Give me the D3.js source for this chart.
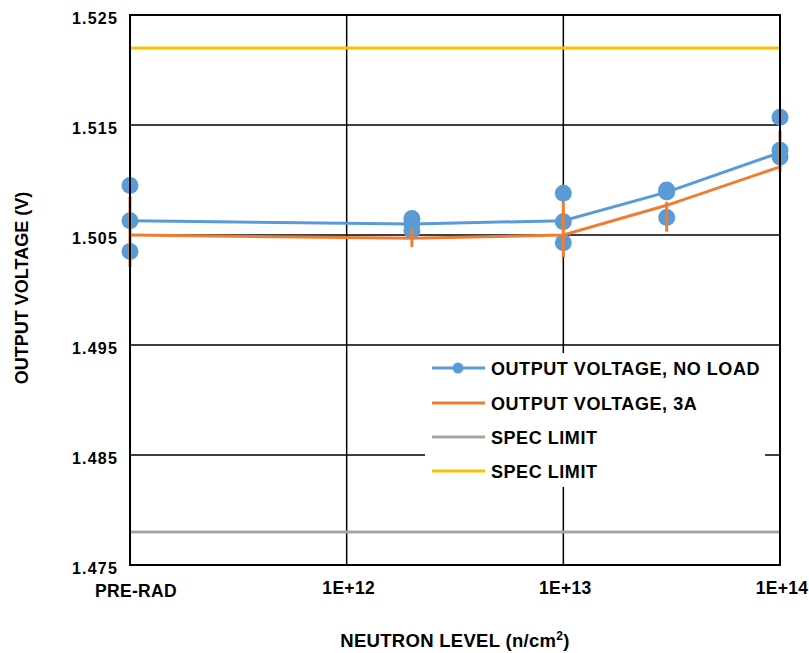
<!DOCTYPE html>
<html>
<head>
<meta charset="utf-8">
<script src="https://cdn.jsdelivr.net/npm/d3@7"></script>
<style>
  html, body { margin: 0; padding: 0; background: #fff; }
  svg text { font-family: "Liberation Sans", Arial, sans-serif; font-weight: bold; fill: #000; }
</style>
</head>
<body>
<svg id="chart" width="809" height="653"></svg>
<script>
// ---- data ----
const levels = [1e11, 2e12, 1e13, 3e13, 1e14];          // PRE-RAD plotted at 1E+11
const noLoadAvg = [1.5063, 1.5060, 1.5063, 1.5089, 1.5125];
const noLoadUnits = [
  [1.5095, 1.5063, 1.5035],
  [1.5065, 1.5060, 1.5054],
  [1.5088, 1.5062, 1.5043],
  [1.5091, 1.5089, 1.5066],
  [1.5157, 1.5127, 1.5121]
];
const load3AAvg = [1.5050, 1.5047, 1.5050, 1.5077, 1.5112];
const load3AMin = [1.5021, 1.5039, 1.5030, 1.5053, 1.5107];
const load3AMax = [1.5085, 1.5055, 1.5080, 1.5080, 1.5145];
const specLow = 1.478;
const specHigh = 1.522;
const xTickValues = [1e11, 1e12, 1e13, 1e14];
const xTickLabels = ["PRE-RAD", "1E+12", "1E+13", "1E+14"];
const yTickValues = [1.475, 1.485, 1.495, 1.505, 1.515, 1.525];
const seriesNames = ["OUTPUT VOLTAGE, NO LOAD", "OUTPUT VOLTAGE, 3A", "SPEC LIMIT", "SPEC LIMIT"];
const colors = ["#5B9BD5", "#ED7D31", "#A5A5A5", "#FFC000"];

// ---- layout ----
const L = 130, R = 780, T = 15, B = 565;
const svg = d3.select("#chart");
svg.append("rect").attr("width", 809).attr("height", 653).attr("fill", "#fff");

const x = d3.scaleLog().domain([1e11, 1e14]).range([L, R]);
const y = d3.scaleLinear().domain([1.475, 1.525]).range([B, T]);

// gridlines
const grid = svg.append("g");
grid.selectAll("line.h").data(yTickValues.slice(1, -1)).join("line")
  .attr("x1", L).attr("x2", R).attr("y1", d => y(d)).attr("y2", d => y(d))
  .attr("stroke", "#000").attr("stroke-width", 1.5);
grid.selectAll("line.v").data(xTickValues.slice(1, -1)).join("line")
  .attr("y1", T).attr("y2", B).attr("x1", d => x(d)).attr("x2", d => x(d))
  .attr("stroke", "#000").attr("stroke-width", 1.5);

// spec limits
[[specLow, colors[2]], [specHigh, colors[3]]].forEach(([v, c]) => {
  svg.append("line").attr("x1", L).attr("x2", R).attr("y1", y(v)).attr("y2", y(v))
    .attr("stroke", c).attr("stroke-width", 3);
});

// no-load series
const line = d3.line().x(d => x(d[0])).y(d => y(d[1]));
svg.append("path").datum(levels.map((l, i) => [l, noLoadAvg[i]]))
  .attr("d", line).attr("fill", "none").attr("stroke", colors[0]).attr("stroke-width", 3);
const pts = [];
levels.forEach((l, i) => noLoadUnits[i].forEach(v => pts.push([l, v])));
svg.append("g").selectAll("circle").data(pts).join("circle")
  .attr("cx", d => x(d[0])).attr("cy", d => y(d[1])).attr("r", 8.5)
  .attr("fill", colors[0]);

// 3A series
svg.append("path").datum(levels.map((l, i) => [l, load3AAvg[i]]))
  .attr("d", line).attr("fill", "none").attr("stroke", colors[1]).attr("stroke-width", 3);
svg.append("g").selectAll("line").data(levels).join("line")
  .attr("x1", d => x(d)).attr("x2", d => x(d))
  .attr("y1", (d, i) => y(load3AMin[i])).attr("y2", (d, i) => y(load3AMax[i]))
  .attr("stroke", colors[1]).attr("stroke-width", 3);

// legend
const lg = svg.append("g");
lg.append("rect").attr("x", 425).attr("y", 353).attr("width", 340).attr("height", 134).attr("fill", "#fff");
const rowsY = [368, 403, 437, 471];
seriesNames.forEach((n, i) => {
  lg.append("line").attr("x1", 432).attr("x2", 485).attr("y1", rowsY[i]).attr("y2", rowsY[i])
    .attr("stroke", colors[i]).attr("stroke-width", 3);
  if (i === 0) lg.append("circle").attr("cx", 458).attr("cy", rowsY[i]).attr("r", 5.5).attr("fill", colors[0]);
  lg.append("text").attr("x", 491).attr("y", rowsY[i] + 6.5).attr("font-size", 18)
    .attr("letter-spacing", 0.55).text(n);
});

// plot border / axes
svg.append("rect").attr("x", L).attr("y", T).attr("width", R - L).attr("height", B - T)
  .attr("fill", "none").attr("stroke", "#000").attr("stroke-width", 2);

// y tick labels
svg.append("g").selectAll("text").data(yTickValues).join("text")
  .attr("x", 118).attr("y", d => y(d) + 9).attr("text-anchor", "end")
  .attr("font-size", 16).attr("letter-spacing", 1.2).text(d => d3.format(".3f")(d));

// x tick labels
svg.append("g").selectAll("text").data(xTickValues).join("text")
  .attr("x", (d, i) => i === 0 ? x(d) + 6 : x(d) + 2)
  .attr("y", (d, i) => i === 0 ? 597 : 594)
  .attr("text-anchor", "middle").attr("font-size", 17.5).attr("letter-spacing", 0.3)
  .text((d, i) => xTickLabels[i]);

// axis titles
const xt = svg.append("text").attr("x", 455).attr("y", 647).attr("text-anchor", "middle")
  .attr("font-size", 18.5).attr("letter-spacing", 0.3);
xt.append("tspan").text("NEUTRON LEVEL (n/cm");
xt.append("tspan").attr("font-size", 12).attr("dy", -7).text("2");
xt.append("tspan").attr("dy", 7).text(")");

svg.append("text").attr("transform", "translate(28,288) rotate(-90)")
  .attr("text-anchor", "middle").attr("font-size", 18).text("OUTPUT VOLTAGE (V)");
</script>
</body>
</html>
